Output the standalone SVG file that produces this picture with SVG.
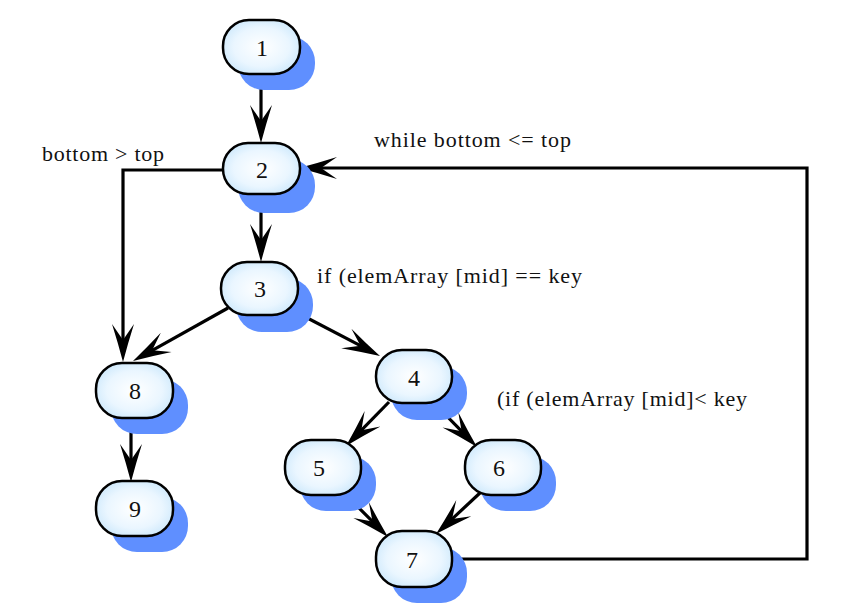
<svg xmlns="http://www.w3.org/2000/svg" xmlns:xlink="http://www.w3.org/1999/xlink" width="850" height="613" viewBox="0 0 850 613">
<defs>
<radialGradient id="nf" cx="50%" cy="50%" r="60%">
<stop offset="0" stop-color="#ffffff"/>
<stop offset="0.6" stop-color="#eaf6ff"/>
<stop offset="1" stop-color="#c8e6fb"/>
</radialGradient>
<path id="arr" d="M0,0 Q-19,-5 -38,-11 L-22,0 L-38,11 Q-19,5 0,0 z" fill="#000"/>
</defs>
<style>
.sh{fill:#5f8fff}
.nd{fill:url(#nf);stroke:#000;stroke-width:2.5}
.nt{font-size:24px;text-anchor:middle;fill:#111}
.lb{font-size:22px;fill:#111}
.e{fill:none;stroke:#000;stroke-width:3.2}
</style>
<rect width="850" height="613" fill="#fff"/>
<g id="connectors">
<path class="e" d="M261,74 L261,123"/>
<use xlink:href="#arr" href="#arr" transform="translate(261,143) rotate(90)"/>
<path class="e" d="M261,194 L261,242"/>
<use xlink:href="#arr" href="#arr" transform="translate(261,262) rotate(90)"/>
<path class="e" d="M223,170 L123,170 L123,342"/>
<use xlink:href="#arr" href="#arr" transform="translate(123,362) rotate(90)"/>
<path class="e" d="M228,308 L150.5,351.3"/>
<use xlink:href="#arr" href="#arr" transform="translate(133,361) rotate(150.8)"/>
<path class="e" d="M292,310 L362.3,346.7"/>
<use xlink:href="#arr" href="#arr" transform="translate(380,356) rotate(27.6)"/>
<path class="e" d="M131,419 L131,462"/>
<use xlink:href="#arr" href="#arr" transform="translate(131,482) rotate(90)"/>
<path class="e" d="M389,402 L360,431.7"/>
<use xlink:href="#arr" href="#arr" transform="translate(346,446) rotate(134.3)"/>
<path class="e" d="M432,401 L463,432.7"/>
<use xlink:href="#arr" href="#arr" transform="translate(477,447) rotate(45.6)"/>
<path class="e" d="M343,492 L373.9,522.9"/>
<use xlink:href="#arr" href="#arr" transform="translate(388,537) rotate(45)"/>
<path class="e" d="M481,492 L450.6,520.4"/>
<use xlink:href="#arr" href="#arr" transform="translate(436,534) rotate(137)"/>
<path class="e" d="M452,559 L807,559 L807,168 L319,168"/>
<use xlink:href="#arr" href="#arr" transform="translate(299,168) rotate(180)"/>
</g>
<g font-family="'Liberation Serif', 'Times New Roman', Times, serif">
<g id="n1"><rect class="sh" x="238" y="36" width="77" height="54" rx="26"/><rect class="nd" x="223" y="20" width="77" height="54" rx="26"/><text class="nt" x="262" y="56">1</text></g>
<g id="n2"><rect class="sh" x="238" y="159" width="77" height="54" rx="26"/><rect class="nd" x="223" y="143" width="77" height="51" rx="25"/><text class="nt" x="262" y="178">2</text></g>
<g id="n3"><rect class="sh" x="236" y="278" width="77" height="54" rx="26"/><rect class="nd" x="221" y="262" width="77" height="53" rx="26"/><text class="nt" x="260" y="297">3</text></g>
<g id="n8"><rect class="sh" x="111" y="379" width="77" height="55" rx="26"/><rect class="nd" x="96" y="363" width="77" height="55" rx="26"/><text class="nt" x="135" y="399">8</text></g>
<g id="n9"><rect class="sh" x="111" y="497" width="77" height="55" rx="26"/><rect class="nd" x="96" y="481" width="77" height="55" rx="26"/><text class="nt" x="135" y="517">9</text></g>
<g id="n4"><rect class="sh" x="391" y="366" width="76" height="54" rx="26"/><rect class="nd" x="376" y="350" width="76" height="53" rx="26"/><text class="nt" x="414" y="386">4</text></g>
<g id="n5"><rect class="sh" x="300" y="456" width="76" height="55" rx="26"/><rect class="nd" x="285" y="440" width="76" height="55" rx="26"/><text class="nt" x="319" y="476">5</text></g>
<g id="n6"><rect class="sh" x="480" y="456" width="76" height="55" rx="26"/><rect class="nd" x="465" y="440" width="76" height="55" rx="26"/><text class="nt" x="499" y="476">6</text></g>
<g id="n7"><rect class="sh" x="391" y="547" width="76" height="56" rx="26"/><rect class="nd" x="376" y="531" width="76" height="56" rx="26"/><text class="nt" x="412" y="568">7</text></g>
<g id="labels">
<text class="lb" x="42" y="161" textLength="122" lengthAdjust="spacing">bottom &gt; top</text>
<text class="lb" x="374" y="147" textLength="197" lengthAdjust="spacing">while bottom &lt;= top</text>
<text class="lb" x="317" y="283" textLength="265" lengthAdjust="spacing">if (elemArray [mid]  == key</text>
<text class="lb" x="497" y="406" textLength="250" lengthAdjust="spacing">(if (elemArray [mid]&lt; key</text>
</g>
</g>
</svg>
